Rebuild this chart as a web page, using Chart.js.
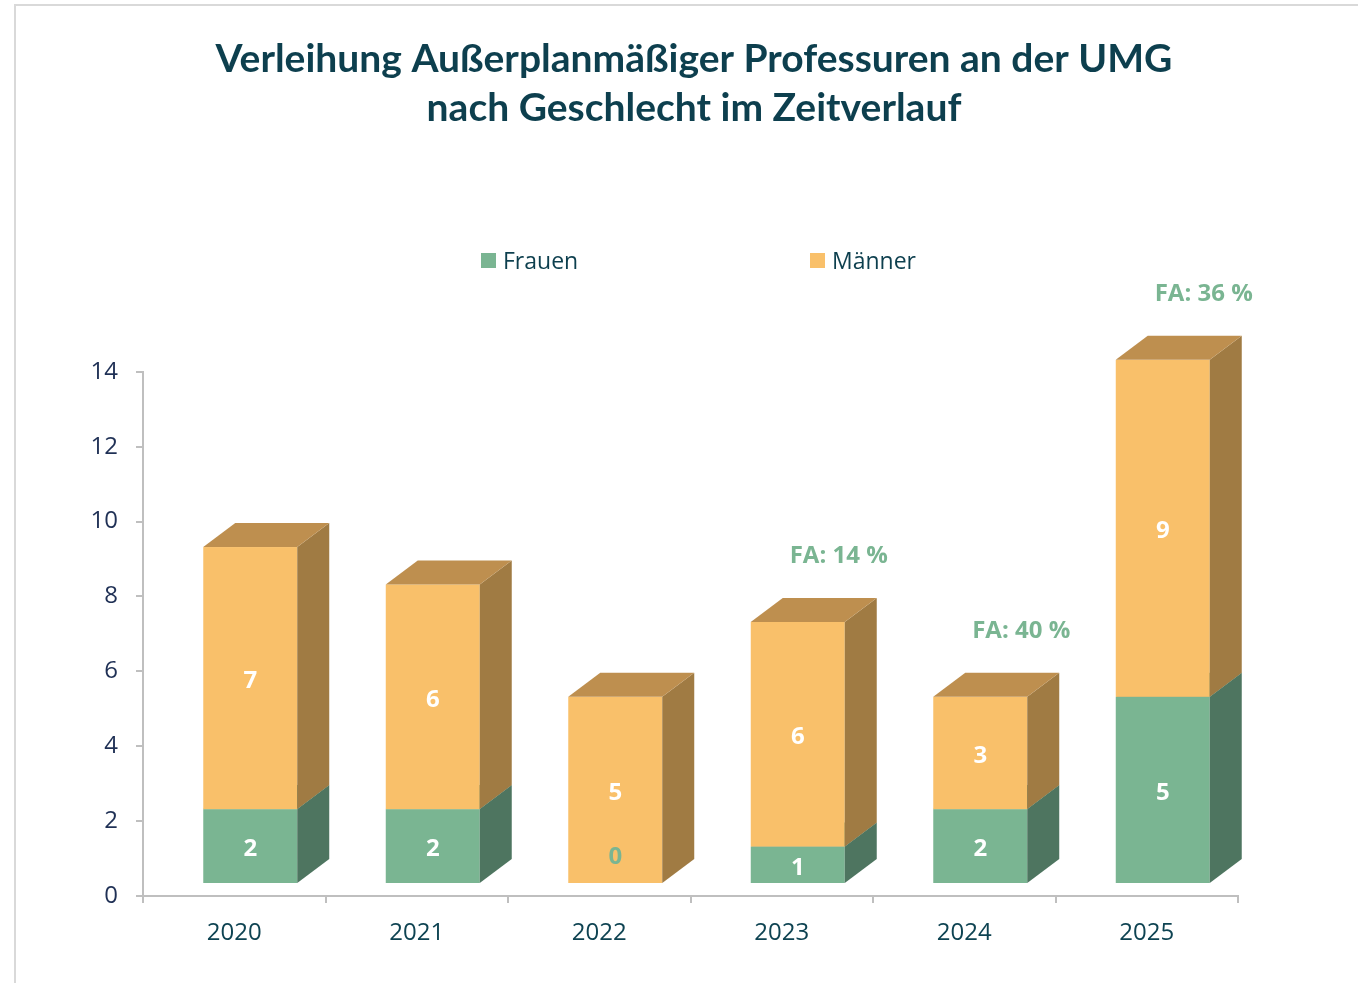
<!DOCTYPE html>
<html lang="de">
<head>
<meta charset="utf-8">
<title>Außerplanmäßige Professuren UMG</title>
<script src="https://cdn.jsdelivr.net/npm/chart.js@4.4.1/dist/chart.umd.min.js"></script>
<style>
  html, body { margin: 0; padding: 0; background: #fff; overflow: hidden; }
  .frame { position: absolute; left: 14px; top: 4px; width: 1400px; height: 1000px; border: 2px solid #d9d9d9; }
  #wrap { position: absolute; left: 0; top: 0; width: 1358px; height: 983px; }
</style>
</head>
<body>
<div class="frame"></div>
<div id="wrap"><canvas id="chart"></canvas></div>
<script>
// Daten
const years = ['2020', '2021', '2022', '2023', '2024', '2025'];
const frauen = [2, 2, 0, 1, 2, 5];
const maenner = [7, 6, 5, 6, 3, 9];
const showFA = [false, false, false, true, true, true]; // Frauenanteil nur ab 2023

const TITLE_FONT = 'Lato, "Open Sans", sans-serif';
const FONT = '"Open Sans", Lato, sans-serif';
const TEXT_DARK = '#0d3f4e';
const X_TICK_COLOR = '#0e4352';
const Y_TICK_COLOR = '#1f3055';

// Farben der Flächen (vorne, Seite, oben)
const faces = [
  { front: '#7ab592', side: '#4e7560', top: '#5f8f73' },
  { front: '#f9c06a', side: '#a07b43', top: '#be8f4f' }
];

// 3D-Quader statt der normalen Balken zeichnen
const box3d = {
  id: 'box3d',
  beforeDatasetsDraw(chart) {
    const ctx = chart.ctx;
    const dx = 32, dy = 24;       // Tiefe
    const sx = 16, sy = -12;      // Versatz der Vorderseite
    ctx.save();
    years.forEach((_, i) => {
      chart.data.datasets.forEach((ds, d) => {
        const val = ds.data[i];
        if (!val) return;
        const bar = chart.getDatasetMeta(d).data[i];
        const L = bar.x - bar.width / 2 + sx, R = L + bar.width;
        const T = bar.y + sy, B = bar.base + sy;
        const f = faces[d];
        ctx.fillStyle = f.front;
        ctx.fillRect(L, T, R - L, B - T);
        ctx.fillStyle = f.side;
        ctx.beginPath();
        ctx.moveTo(R, B); ctx.lineTo(R + dx, B - dy); ctx.lineTo(R + dx, T - dy); ctx.lineTo(R, T);
        ctx.closePath(); ctx.fill();
        ctx.fillStyle = f.top;
        ctx.beginPath();
        ctx.moveTo(L, T); ctx.lineTo(L + dx, T - dy); ctx.lineTo(R + dx, T - dy); ctx.lineTo(R, T);
        ctx.closePath(); ctx.fill();
      });
    });

    // Werte in die Balken schreiben
    ctx.textAlign = 'center';
    ctx.textBaseline = 'middle';
    ctx.font = 'bold 24px ' + FONT;
    years.forEach((_, i) => {
      chart.data.datasets.forEach((ds, d) => {
        const val = ds.data[i];
        const bar = chart.getDatasetMeta(d).data[i];
        const cx = bar.x + sx;
        if (val === 0) {
          ctx.fillStyle = faces[d].front;
          ctx.fillText(String(val), cx, bar.base + sy - 27);
        } else {
          ctx.fillStyle = '#ffffff';
          ctx.fillText(String(val), cx, (bar.y + bar.base) / 2 + sy + 3);
        }
      });
      // Frauenanteil oberhalb
      if (showFA[i]) {
        const top = chart.getDatasetMeta(1).data[i];
        const pct = Math.round(frauen[i] / (frauen[i] + maenner[i]) * 100);
        ctx.fillStyle = faces[0].front;
        ctx.fillText('FA: ' + pct + ' %', top.x + 57, top.y + sy - 66);
      }
    });
    ctx.restore();
    return false;
  },
  afterDraw(chart) {
    // Legende mit weitem Abstand wie im Original
    const ctx = chart.ctx;
    const items = [
      { text: 'Frauen', x: 481 },
      { text: 'Männer', x: 810 }
    ];
    ctx.save();
    ctx.font = '23px ' + FONT;
    ctx.textBaseline = 'middle';
    ctx.textAlign = 'left';
    items.forEach((it, d) => {
      ctx.fillStyle = faces[d].front;
      ctx.fillRect(it.x, 253, 15, 15);
      ctx.fillStyle = TEXT_DARK;
      ctx.fillText(it.text, it.x + 22, 262);
    });
    ctx.restore();
  }
};

const chart = new Chart(document.getElementById('chart'), {
  type: 'bar',
  data: {
    labels: years,
    datasets: [
      { label: 'Frauen', data: frauen, backgroundColor: faces[0].front },
      { label: 'Männer', data: maenner, backgroundColor: faces[1].front }
    ]
  },
  options: {
    responsive: true,
    maintainAspectRatio: false,
    animation: false,
    layout: { padding: { left: 30, right: 0, top: 0, bottom: 0 } },
    datasets: { bar: { categoryPercentage: 1, barPercentage: 0.515 } },
    plugins: {
      legend: { display: false },
      tooltip: { enabled: false },
      title: {
        display: true,
        text: ['Verleihung Außerplanmäßiger Professuren an der UMG', 'nach Geschlecht im Zeitverlauf'],
        color: TEXT_DARK,
        font: { family: TITLE_FONT, size: 39, weight: 'bold', lineHeight: 1.28 },
        padding: { top: 34, bottom: 238 }
      }
    },
    scales: {
      x: {
        stacked: true,
        afterFit: s => { s.height = 87; },
        grid: { display: true, drawOnChartArea: false, tickLength: 7, color: '#bfbfbf', lineWidth: 2 },
        border: { color: '#bfbfbf', width: 2 },
        ticks: { color: X_TICK_COLOR, font: { family: FONT, size: 24 }, padding: 16 }
      },
      y: {
        stacked: true,
        min: 0,
        max: 14,
        afterFit: s => { s.width = 113; },
        grid: { display: true, drawOnChartArea: false, tickLength: 7, color: '#bfbfbf', lineWidth: 2 },
        border: { color: '#bfbfbf', width: 2 },
        ticks: { stepSize: 2, color: Y_TICK_COLOR, font: { family: FONT, size: 24 }, padding: 18 }
      },
      // leerer Platz rechts, damit der Titel mittig sitzt
      rechts: {
        position: 'right',
        display: true,
        afterFit: s => { s.width = 120; },
        grid: { display: false },
        border: { display: false },
        ticks: { display: false }
      }
    }
  },
  plugins: [box3d]
});
</script>
</body>
</html>
